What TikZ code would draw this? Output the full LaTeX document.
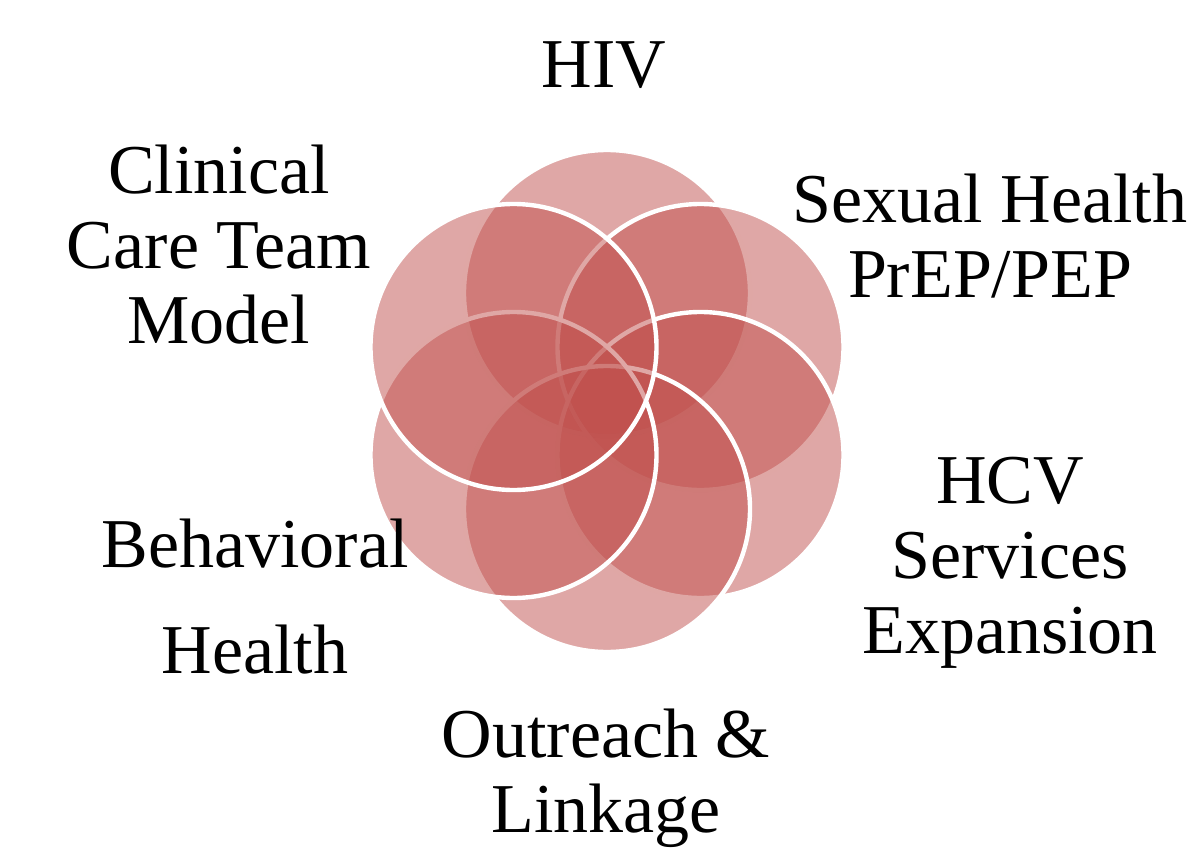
\documentclass[tikz,border=0pt]{standalone}
\usepackage{fontspec}
\setmainfont{Liberation Serif}
\definecolor{petalred}{HTML}{C0504D}

\begin{document}
\begin{tikzpicture}[
    x=0.5pt, y=-0.5pt,
    petal/.style={
      circle, minimum size=143pt, inner sep=0pt,
      fill=petalred, fill opacity=0.5,
      draw=white, draw opacity=1, line width=2.2pt
    },
    lbl/.style={align=center, anchor=base, inner sep=0pt,
      font=\fontsize{35}{37.5}\selectfont}
  ]
  \useasboundingbox (0,0) rectangle (1189,851);

  % Petals, clockwise from the top
  \node[petal] (hiv) at (607,293)   {};
  \node[petal] (sex) at (700.5,347) {};
  \node[petal] (hcv) at (700.5,455) {};
  \node[petal] (out) at (607,509)   {};
  \node[petal] (beh) at (513.5,455) {};
  \node[petal] (cli) at (513.5,347) {};

  % Labels round the flower (placed by the baseline of their last line)
  \node[lbl] (hivlbl) at (604,87)   {HIV};
  \node[lbl] (sexlbl) at (990,297)  {Sexual Health\\PrEP/PEP};
  \node[lbl] (hcvlbl) at (1010,653) {HCV\\Services\\Expansion};
  \node[lbl] (outlbl) at (606,832)  {Outreach \&\\Linkage};
  \node[lbl] (behlbl) at (255,673)  {Behavioral\\[15.5pt]Health};
  \node[lbl] (clilbl) at (219,343)  {Clinical\\Care Team\\Model};
\end{tikzpicture}
\end{document}
